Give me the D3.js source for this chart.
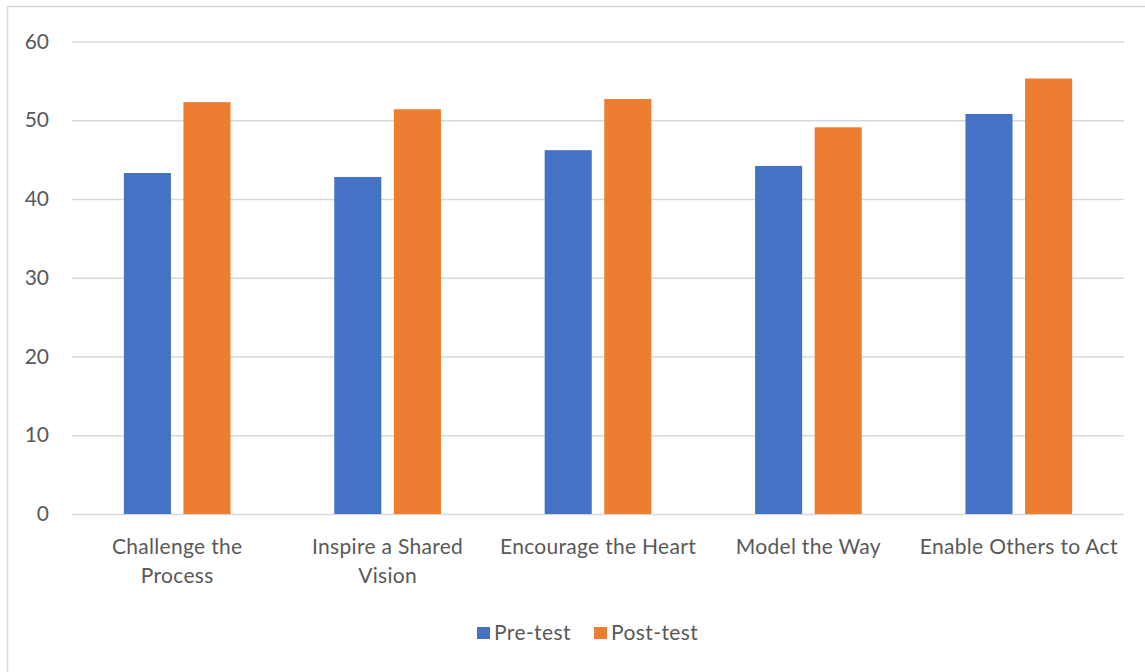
<!DOCTYPE html>
<html>
<head>
<meta charset="utf-8">
<script src="https://cdn.jsdelivr.net/npm/d3@7"></script>
<style>
  html, body { margin: 0; padding: 0; background: #fff; }
  svg { display: block; font-family: Lato, "Open Sans", sans-serif; }
</style>
</head>
<body>
<svg id="chart" width="1145" height="672"></svg>
<script>
// Leadership practice scores, before and after the programme
const categories = ["Challenge the Process", "Inspire a Shared Vision", "Encourage the Heart", "Model the Way", "Enable Others to Act"];
const categoryLines = [["Challenge the", "Process"], ["Inspire a Shared", "Vision"], ["Encourage the Heart"], ["Model the Way"], ["Enable Others to Act"]];
const seriesNames = ["Pre-test", "Post-test"];
const preTest = [43.3, 42.8, 46.2, 44.2, 50.8];
const postTest = [52.3, 51.4, 52.7, 49.1, 55.3];
const yTicks = [0, 10, 20, 30, 40, 50, 60];
const colors = ["#4472C4", "#ED7D31"];

const svg = d3.select("#chart");
const W = 1145, H = 672;
const margin = { left: 72, right: 21, top: 41.5, bottom: 158 };
const plotW = W - margin.left - margin.right;
const plotH = H - margin.top - margin.bottom;
const fontSize = "21px";

// chart frame
svg.append("rect")
  .attr("x", 7.5).attr("y", 6.5)
  .attr("width", W + 10).attr("height", H + 10)
  .attr("fill", "#fff").attr("stroke", "#D9D9D9").attr("stroke-width", 1.5);

const g = svg.append("g").attr("transform", `translate(${margin.left},${margin.top})`);

const x0 = d3.scaleBand().domain(categories).range([0, plotW]).padding(0);
const groupW = x0.bandwidth() * 0.507;
const x1 = d3.scaleBand().domain(seriesNames).range([-groupW / 2, groupW / 2]).paddingInner(0.21).paddingOuter(0);
const y = d3.scaleLinear().domain([0, 60]).range([plotH, 0]);

// gridlines and value labels
const yAxis = d3.axisLeft(y).tickValues(yTicks).tickSize(-plotW).tickPadding(23);
const ya = g.append("g").call(yAxis);
ya.select(".domain").remove();
ya.selectAll(".tick line").attr("stroke", "#D9D9D9").attr("stroke-width", 1.5);
ya.selectAll(".tick text").attr("fill", "#595959").style("font-size", fontSize).style("font-family", "Lato, sans-serif");

// bars
const rows = categories.map((c, i) => ({ cat: c, vals: [preTest[i], postTest[i]] }));
const groups = g.selectAll(".grp").data(rows).join("g")
  .attr("class", "grp")
  .attr("transform", d => `translate(${x0(d.cat) + x0.bandwidth() / 2},0)`);
groups.selectAll("rect").data(d => d.vals.map((v, k) => ({ s: seriesNames[k], v, k })))
  .join("rect")
  .attr("x", d => x1(d.s))
  .attr("width", x1.bandwidth())
  .attr("y", d => y(d.v))
  .attr("height", d => plotH - y(d.v))
  .attr("fill", d => colors[d.k]);

// category labels
const xa = g.append("g").attr("transform", `translate(0,${plotH})`);
xa.selectAll("text").data(categories).join("text")
  .attr("x", d => x0(d) + x0.bandwidth() / 2)
  .attr("y", 39.5)
  .attr("text-anchor", "middle")
  .attr("fill", "#595959")
  .style("font-size", fontSize)
  .style("letter-spacing", "0.3px")
  .each(function (d, i) {
    const t = d3.select(this);
    categoryLines[i].forEach((line, j) => {
      t.append("tspan").attr("x", x0(d) + x0.bandwidth() / 2).attr("dy", j === 0 ? 0 : 29).text(line);
    });
  });

// legend
const legend = svg.append("g").attr("transform", "translate(477,633)");
const items = [{ name: seriesNames[0], x: 0 }, { name: seriesNames[1], x: 117 }];
items.forEach((it, k) => {
  const li = legend.append("g").attr("transform", `translate(${it.x},0)`);
  li.append("rect").attr("x", 0).attr("y", -6).attr("width", 13).attr("height", 12).attr("fill", colors[k]);
  li.append("text").attr("x", 17).attr("y", 0).attr("dy", "0.35em")
    .attr("fill", "#595959").style("font-size", fontSize).style("letter-spacing", "0.4px").text(it.name);
});
</script>
</body>
</html>
